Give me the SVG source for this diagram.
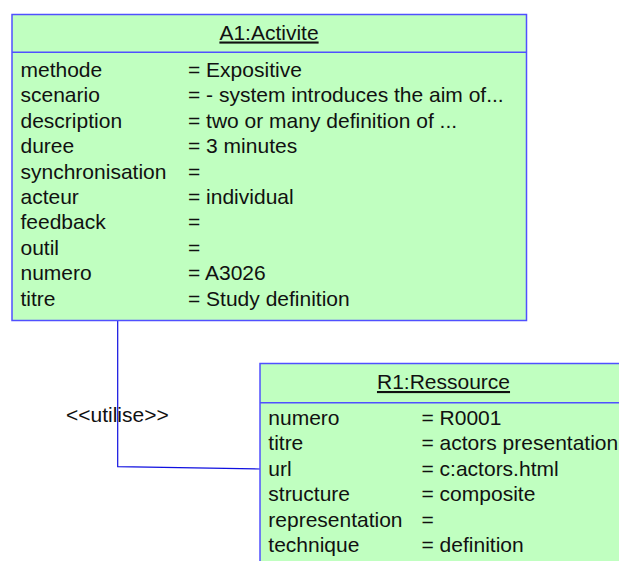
<svg xmlns="http://www.w3.org/2000/svg" width="619" height="561" viewBox="0 0 619 561">
<style>
.box{fill:#c0ffc0;stroke:#5050ff;stroke-width:1.5}
.div{stroke:#5050ff;stroke-width:1.5}
text{font-family:"Liberation Sans",Arial,sans-serif;font-size:21px;fill:#111}
.title{text-anchor:middle;text-decoration:underline}
.conn{fill:none;stroke:#1010e0;stroke-width:1.2}
</style>
<rect width="619" height="561" fill="#fff"/>
<g id="connectors">
<polyline class="conn" points="117.7,321 117.7,466.7 260,469"/>
<text x="66" y="421.5">&lt;&lt;utilise&gt;&gt;</text>
</g>
<g id="A1">
<rect class="box" x="12" y="14.5" width="514.5" height="306"/>
<line class="div" x1="12" y1="52.3" x2="526.5" y2="52.3"/>
<text class="title" x="269" y="39.5">A1:Activite</text>
<text x="20.5" y="77">methode</text><text x="188" y="77">= Expositive</text>
<text x="20.5" y="102.4">scenario</text><text x="188" y="102.4">= - system introduces the aim of...</text>
<text x="20.5" y="127.8">description</text><text x="188" y="127.8">= two or many definition of ...</text>
<text x="20.5" y="153.2">duree</text><text x="188" y="153.2">= 3 minutes</text>
<text x="20.5" y="178.6">synchronisation</text><text x="188" y="178.6">=</text>
<text x="20.5" y="204">acteur</text><text x="188" y="204">= individual</text>
<text x="20.5" y="229.4">feedback</text><text x="188" y="229.4">=</text>
<text x="20.5" y="254.8">outil</text><text x="188" y="254.8">=</text>
<text x="20.5" y="280.2">numero</text><text x="188" y="280.2">= A3026</text>
<text x="20.5" y="305.6">titre</text><text x="188" y="305.6">= Study definition</text>
</g>
<g id="R1">
<rect class="box" x="260" y="363.5" width="368" height="210"/>
<line class="div" x1="260" y1="402.7" x2="628" y2="402.7"/>
<text class="title" x="443.5" y="389">R1:Ressource</text>
<text x="268.3" y="425">numero</text><text x="421.5" y="425">= R0001</text>
<text x="268.3" y="450.4">titre</text><text x="421.5" y="450.4">= actors presentation</text>
<text x="268.3" y="475.8">url</text><text x="421.5" y="475.8">= c:actors.html</text>
<text x="268.3" y="501.2">structure</text><text x="421.5" y="501.2">= composite</text>
<text x="268.3" y="526.6">representation</text><text x="421.5" y="526.6">=</text>
<text x="268.3" y="552">technique</text><text x="421.5" y="552">= definition</text>
</g>
</svg>
